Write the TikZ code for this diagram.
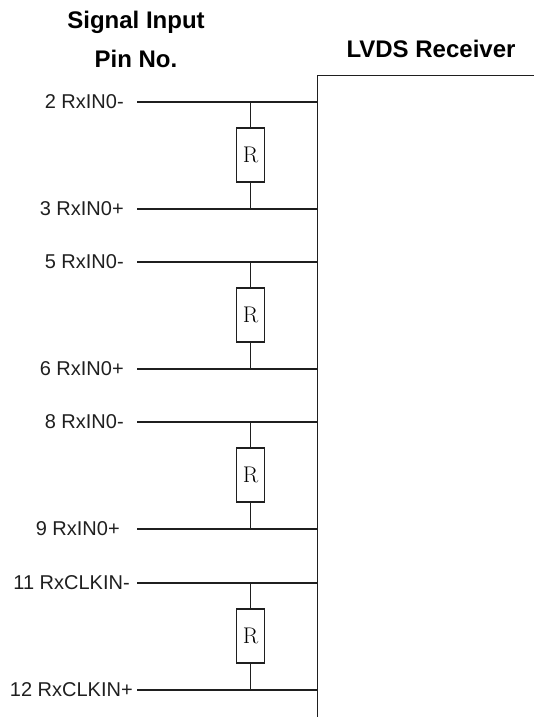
\documentclass[tikz,border=0pt]{standalone}
\usepackage{fontspec}
\setmainfont{Liberation Sans}
\newfontfamily\serifR{Latin Modern Roman}
\definecolor{ink}{gray}{0.12}
\tikzset{
  wire/.style={line width=0.8pt,ink},
  frame/.style={line width=0.6pt,ink},
  res/.style={draw=ink,line width=0.8pt,fill=white,minimum width=21pt,minimum height=40.5pt,inner sep=0pt,font=\serifR\fontsize{17}{17}\selectfont},
  pin/.style={anchor=east,inner sep=0pt,text=ink,font=\fontsize{15}{17}\selectfont},
  head/.style={inner sep=0pt,text=black,font=\bfseries\fontsize{18}{20}\selectfont}
}
\begin{document}
\begin{tikzpicture}[x=0.75pt,y=-0.75pt]
\useasboundingbox (0,0) rectangle (534,717);
\node[head] at (136,22) {Signal Input};
\node[head] at (136,59) {Pin No.};
\node[head] at (431,49) {LVDS Receiver};
\coordinate (rt) at (317.5,75.5);
\coordinate (rtr) at (534,75.5);
\coordinate (rb) at (317.5,717);
\draw[frame] (rtr) -- (rt) -- (rb);
% group 1
\node[pin] (p2) at (124,102) {2 RxIN0-};
\node[pin] (p3) at (124,209) {3 RxIN0+};
\coordinate (s2) at (137,102); \coordinate (s3) at (137,209);
\coordinate (e2) at (317,102); \coordinate (e3) at (317,209);
\coordinate (j2) at (250.5,102); \coordinate (j3) at (250.5,209);
\node[res] (r1) at (250.5,155) {R};
\draw[wire] (s2) -- (e2);
\draw[wire] (s3) -- (e3);
\draw[wire] (j2) -- (r1.north); \draw[wire] (r1.south) -- (j3);
% group 2
\node[pin] (p5) at (124,262) {5 RxIN0-};
\node[pin] (p6) at (124,369) {6 RxIN0+};
\coordinate (s5) at (137,262); \coordinate (s6) at (137,369);
\coordinate (e5) at (317,262); \coordinate (e6) at (317,369);
\coordinate (j5) at (250.5,262); \coordinate (j6) at (250.5,369);
\node[res] (r2) at (250.5,315) {R};
\draw[wire] (s5) -- (e5);
\draw[wire] (s6) -- (e6);
\draw[wire] (j5) -- (r2.north); \draw[wire] (r2.south) -- (j6);
% group 3
\node[pin] (p8) at (124,422) {8 RxIN0-};
\node[pin] (p9) at (120,529) {9 RxIN0+};
\coordinate (s8) at (137,422); \coordinate (s9) at (137,529);
\coordinate (e8) at (317,422); \coordinate (e9) at (317,529);
\coordinate (j8) at (250.5,422); \coordinate (j9) at (250.5,529);
\node[res] (r3) at (250.5,475) {R};
\draw[wire] (s8) -- (e8);
\draw[wire] (s9) -- (e9);
\draw[wire] (j8) -- (r3.north); \draw[wire] (r3.south) -- (j9);
% group 4
\node[pin] (p11) at (130,583) {11 RxCLKIN-};
\node[pin] (p12) at (133,690) {12 RxCLKIN+};
\coordinate (s11) at (137,583); \coordinate (s12) at (137,690);
\coordinate (e11) at (317,583); \coordinate (e12) at (317,690);
\coordinate (j11) at (250.5,583); \coordinate (j12) at (250.5,690);
\node[res] (r4) at (250.5,636) {R};
\draw[wire] (s11) -- (e11);
\draw[wire] (s12) -- (e12);
\draw[wire] (j11) -- (r4.north); \draw[wire] (r4.south) -- (j12);
\end{tikzpicture}
\end{document}
